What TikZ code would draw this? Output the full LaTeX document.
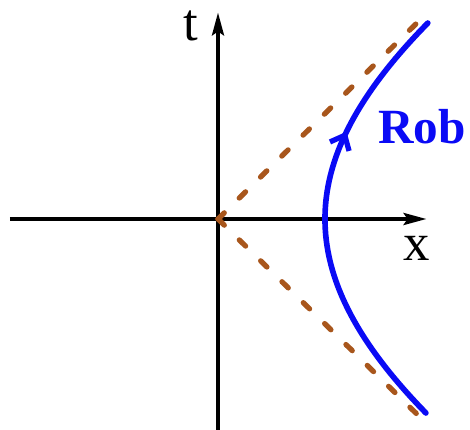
\documentclass[tikz,border=0pt]{standalone}
\usepackage{fontspec}
\setmainfont{Liberation Serif}
\usepackage{tikz}
\usetikzlibrary{arrows.meta,decorations.markings}
\definecolor{conebrown}{HTML}{A8561C}
\definecolor{robblue}{HTML}{0A0AF5}

\begin{document}
\begin{tikzpicture}[x=1cm,y=1cm,
    axis/.style={line width=2.8pt, black, -{Stealth[length=13pt, width=6.5pt, inset=2pt]}},
    cone/.style={line width=3pt, conebrown, line cap=round, dash pattern=on 5pt off 12pt},
    rob/.style={line width=3.2pt, robblue, line cap=round,
                decoration={markings, mark=at position 6.3cm with
                  {\arrow{Straight Barb[length=7pt, width=12pt, line width=3pt]}}},
                postaction={decorate}},
    lbl/.style={font=\fontsize{30}{34}\selectfont, inner sep=0pt}]

  \path[use as bounding box] (-4.36,-4.22) rectangle (5.04,4.38);

  % -- axes --
  \coordinate (O)  at (0,0);
  \coordinate (xl) at (-4.16,0);
  \coordinate (xr) at (4.18,0);
  \coordinate (tb) at (0,-4.3);
  \coordinate (tt) at (0,4.14);
  \draw[axis] (xl) -- (xr);
  \draw[axis] (tb) -- (tt);
  \node[lbl] (tlab) at (-0.54,3.86) {t};
  \node[lbl] (xlab) at (3.98,-0.59) {x};

  % -- light cone --
  \coordinate (cup) at (4.18,4.12);
  \coordinate (cdn) at (4.18,-4.1);
  \draw[cone] (O) -- (cup);
  \draw[cone] (O) -- (cdn);

  % -- Rob's worldline, bent away from the cone and back
  \draw[rob] plot[domain=-3.88:3.92, samples=80]
    ({-12.4+sqrt(211.4+4.17*\x*\x)}, \x);
  \node[lbl, font=\fontsize{28}{32}\selectfont\bfseries, text=robblue] (rob) at (4.08,1.84) {Rob};
\end{tikzpicture}
\end{document}
